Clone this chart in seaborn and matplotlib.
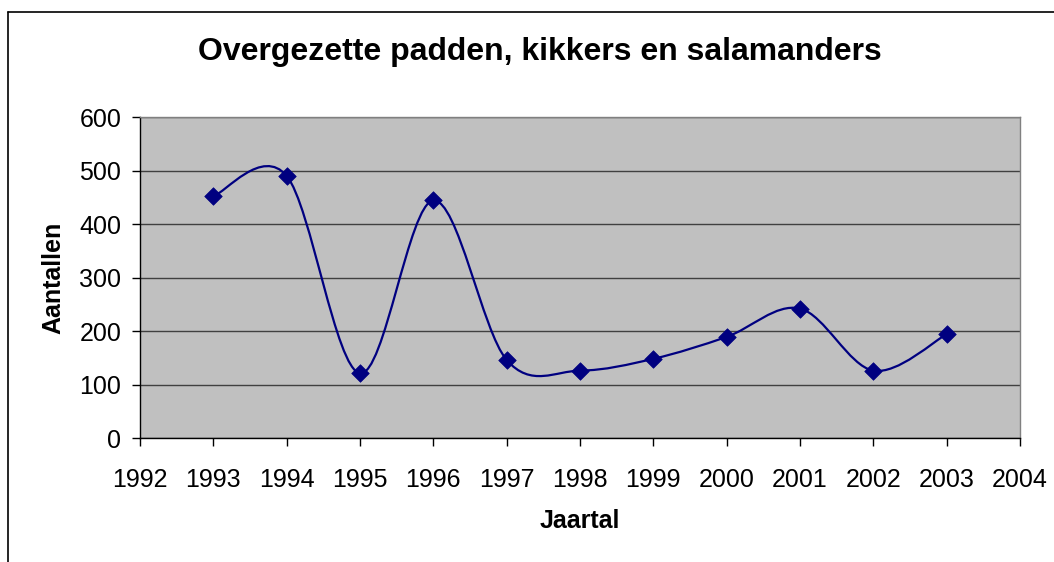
import numpy as np
import matplotlib
matplotlib.use("Agg")
import matplotlib.pyplot as plt
import seaborn as sns
from matplotlib.path import Path
from matplotlib.patches import PathPatch
from matplotlib.lines import Line2D

# Data
years = [1993, 1994, 1995, 1996, 1997, 1998, 1999, 2000, 2001, 2002, 2003]
counts = [452, 490, 121, 444, 146, 126, 148, 189, 242, 126, 194]
x_ticks = list(range(1992, 2005))
y_ticks = [0, 100, 200, 300, 400, 500, 600]

sns.set_style("white")
plt.rcParams['font.family'] = ['Liberation Sans', 'DejaVu Sans']
plt.rcParams['text.color'] = 'black'
plt.rcParams['axes.labelcolor'] = 'black'
plt.rcParams['xtick.color'] = 'black'
plt.rcParams['ytick.color'] = 'black'

fig = plt.figure(figsize=(10.54, 5.62), dpi=100)
ax = fig.add_axes([0.1328, 0.2206, 0.8349, 0.5712])
ax.set_facecolor("#C0C0C0")

# Excel-style smoothed line (Catmull-Rom as cubic Bezier segments)
pts = np.column_stack([years, counts]).astype(float)
n = len(pts)
verts = [pts[0]]
codes = [Path.MOVETO]
for i in range(n - 1):
    p_prev = pts[max(i - 1, 0)]
    p0, p1 = pts[i], pts[i + 1]
    p_next = pts[min(i + 2, n - 1)]
    c1 = p0 + (p1 - p_prev) / 6.0
    c2 = p1 - (p_next - p0) / 6.0
    verts += [c1, c2, p1]
    codes += [Path.CURVE4] * 3
ax.add_patch(PathPatch(Path(verts, codes), facecolor="none",
                       edgecolor="#000080", linewidth=1.6, zorder=3))

sns.scatterplot(x=years, y=counts, marker="D", s=80, color="#000080",
                edgecolor="#000080", linewidth=0.5, ax=ax, zorder=4)

ax.set_xlim(1992, 2004)
ax.set_ylim(0, 600)
ax.set_xticks(x_ticks)
ax.set_yticks(y_ticks)
ax.yaxis.grid(True, color="#404040", linewidth=1.0)
ax.xaxis.grid(False)
ax.set_axisbelow(True)

for side in ["top", "right"]:
    ax.spines[side].set_color("#808080")
    ax.spines[side].set_linewidth(1.0)
for side in ["left", "bottom"]:
    ax.spines[side].set_color("#000000")
    ax.spines[side].set_linewidth(1.0)

ax.tick_params(axis="both", direction="out", length=5.5, width=1.0,
               color="#000000", labelsize=18, bottom=True, left=True)
ax.tick_params(axis="x", pad=16)
ax.tick_params(axis="y", pad=8)

ax.set_xlabel("Jaartal", fontsize=18, fontweight="bold", labelpad=12)
ax.set_ylabel("Aantallen", fontsize=18, fontweight="bold", labelpad=10)

fig.text(0.512, 0.907, "Overgezette padden, kikkers en salamanders",
         ha="center", va="center", fontsize=23, fontweight="bold")

# Outer chart frame (partially visible)
fig.add_artist(Line2D([0.0076, 1.0], [0.979, 0.979], color="#000000", linewidth=1.2))
fig.add_artist(Line2D([0.0076, 0.0076], [0.0, 0.979], color="#000000", linewidth=1.2))

fig.savefig("out.png", dpi=100)
